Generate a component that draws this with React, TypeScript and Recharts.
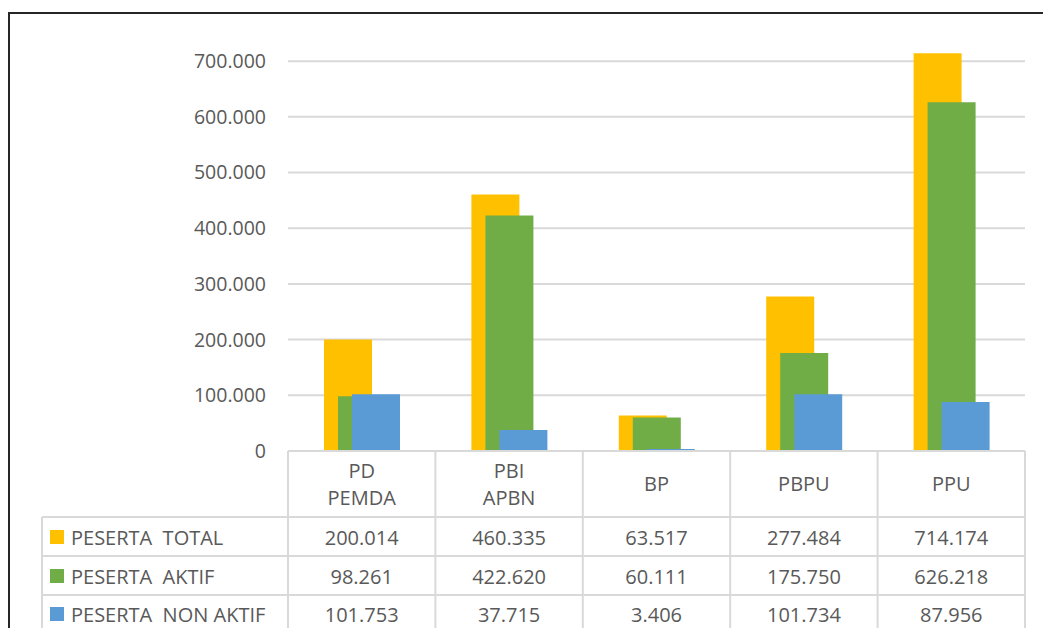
import { BarChart, Bar, XAxis, YAxis, CartesianGrid } from 'recharts';

const categories = ['PD PEMDA', 'PBI APBN', 'BP', 'PBPU', 'PPU'];
const pesertaTotal = [200014, 460335, 63517, 277484, 714174];
const pesertaAktif = [98261, 422620, 60111, 175750, 626218];
const pesertaNonAktif = [101753, 37715, 3406, 101734, 87956];
const yTicks = [0, 100000, 200000, 300000, 400000, 500000, 600000, 700000];

const series = [
  { key: 'total', name: 'PESERTA  TOTAL', color: '#FFC000', values: pesertaTotal },
  { key: 'aktif', name: 'PESERTA  AKTIF', color: '#70AD47', values: pesertaAktif },
  { key: 'nonAktif', name: 'PESERTA  NON AKTIF', color: '#5B9BD5', values: pesertaNonAktif },
];

const data = categories.map((name, i) => ({
  name,
  total: pesertaTotal[i],
  aktif: pesertaAktif[i],
  nonAktif: pesertaNonAktif[i],
}));

const W = 1043;
const H = 628;
const PLOT_LEFT = 288;
const PLOT_RIGHT = 1025;
const AXIS_Y = 451;
const BAND = (PLOT_RIGHT - PLOT_LEFT) / categories.length;
const TABLE_LEFT = 42;
const ROW_LINES = [517, 556, 595];
const ROW_TEXT = [537, 576, 614];
const GRID = '#d9d9d9';
const TEXT = '#595959';
const FONT = '"Open Sans", sans-serif';

const fmt = (v: number) => String(v).replace(/\B(?=(\d{3})+(?!\d))/g, '.');

const TableTick = ({ x, payload, index }: any) => {
  const half = BAND / 2;
  const lines: string[] = payload.value.split(' ');
  const headerMid = 483.5;
  return (
    <g fontFamily={FONT} fontSize={20} fill={TEXT}>
      <line x1={x - half} x2={x - half} y1={AXIS_Y} y2={H} stroke={GRID} strokeWidth={2} />
      {index === categories.length - 1 && (
        <line x1={x + half} x2={x + half} y1={AXIS_Y} y2={H} stroke={GRID} strokeWidth={2} />
      )}
      {ROW_LINES.map((ly) => (
        <line key={ly} x1={x - half} x2={x + half} y1={ly} y2={ly} stroke={GRID} strokeWidth={2} />
      ))}
      {lines.map((t, li) => (
        <text
          key={t}
          x={x}
          y={headerMid + (li - (lines.length - 1) / 2) * 27}
          textAnchor="middle"
          dominantBaseline="central"
        >
          {t}
        </text>
      ))}
      {series.map((s, si) => (
        <text key={s.key} x={x} y={ROW_TEXT[si]} textAnchor="middle" dominantBaseline="central">
          {fmt(s.values[index])}
        </text>
      ))}
      {index === 0 && (
        <g>
          <line x1={TABLE_LEFT} x2={TABLE_LEFT} y1={ROW_LINES[0]} y2={H} stroke={GRID} strokeWidth={2} />
          {ROW_LINES.map((ly) => (
            <line key={ly} x1={TABLE_LEFT} x2={x - half} y1={ly} y2={ly} stroke={GRID} strokeWidth={2} />
          ))}
          {series.map((s, si) => (
            <g key={s.key}>
              <rect x={TABLE_LEFT + 8} y={ROW_TEXT[si] - 7} width={14} height={14} fill={s.color} />
              <text
                x={TABLE_LEFT + 29}
                y={ROW_TEXT[si]}
                dominantBaseline="central"
                style={{ whiteSpace: 'pre' }}
              >
                {s.name}
              </text>
            </g>
          ))}
        </g>
      )}
    </g>
  );
};

export default function App() {
  return (
    <div style={{ position: 'fixed', left: 0, top: 0, width: W, height: H, overflow: 'hidden', background: '#fff' }}>
      <div
        style={{
          position: 'absolute',
          left: 8,
          top: 12,
          width: 1200,
          height: 800,
          border: '2px solid #262626',
          boxSizing: 'border-box',
        }}
      />
      <div style={{ position: 'absolute', left: 0, top: 0 }}>
        <BarChart
          width={W}
          height={H}
          data={data}
          margin={{ top: 50, right: W - PLOT_RIGHT, bottom: 0, left: 0 }}
          barSize={48}
          barGap={-34}
        >
          <CartesianGrid vertical={false} horizontalValues={yTicks} stroke={GRID} strokeWidth={2} />
          <YAxis
            width={PLOT_LEFT}
            domain={[0, 720000]}
            ticks={yTicks}
            axisLine={false}
            tickLine={false}
            tickSize={0}
            tickMargin={22}
            tickFormatter={fmt}
            tick={{ fill: TEXT, fontSize: 19.5, fontFamily: FONT }}
          />
          <XAxis
            dataKey="name"
            height={H - AXIS_Y}
            interval={0}
            axisLine={{ stroke: GRID, strokeWidth: 2 }}
            tickLine={false}
            tick={<TableTick />}
          />
          {series.map((s) => (
            <Bar key={s.key} dataKey={s.key} name={s.name} fill={s.color} isAnimationActive={false} />
          ))}
        </BarChart>
      </div>
    </div>
  );
}
